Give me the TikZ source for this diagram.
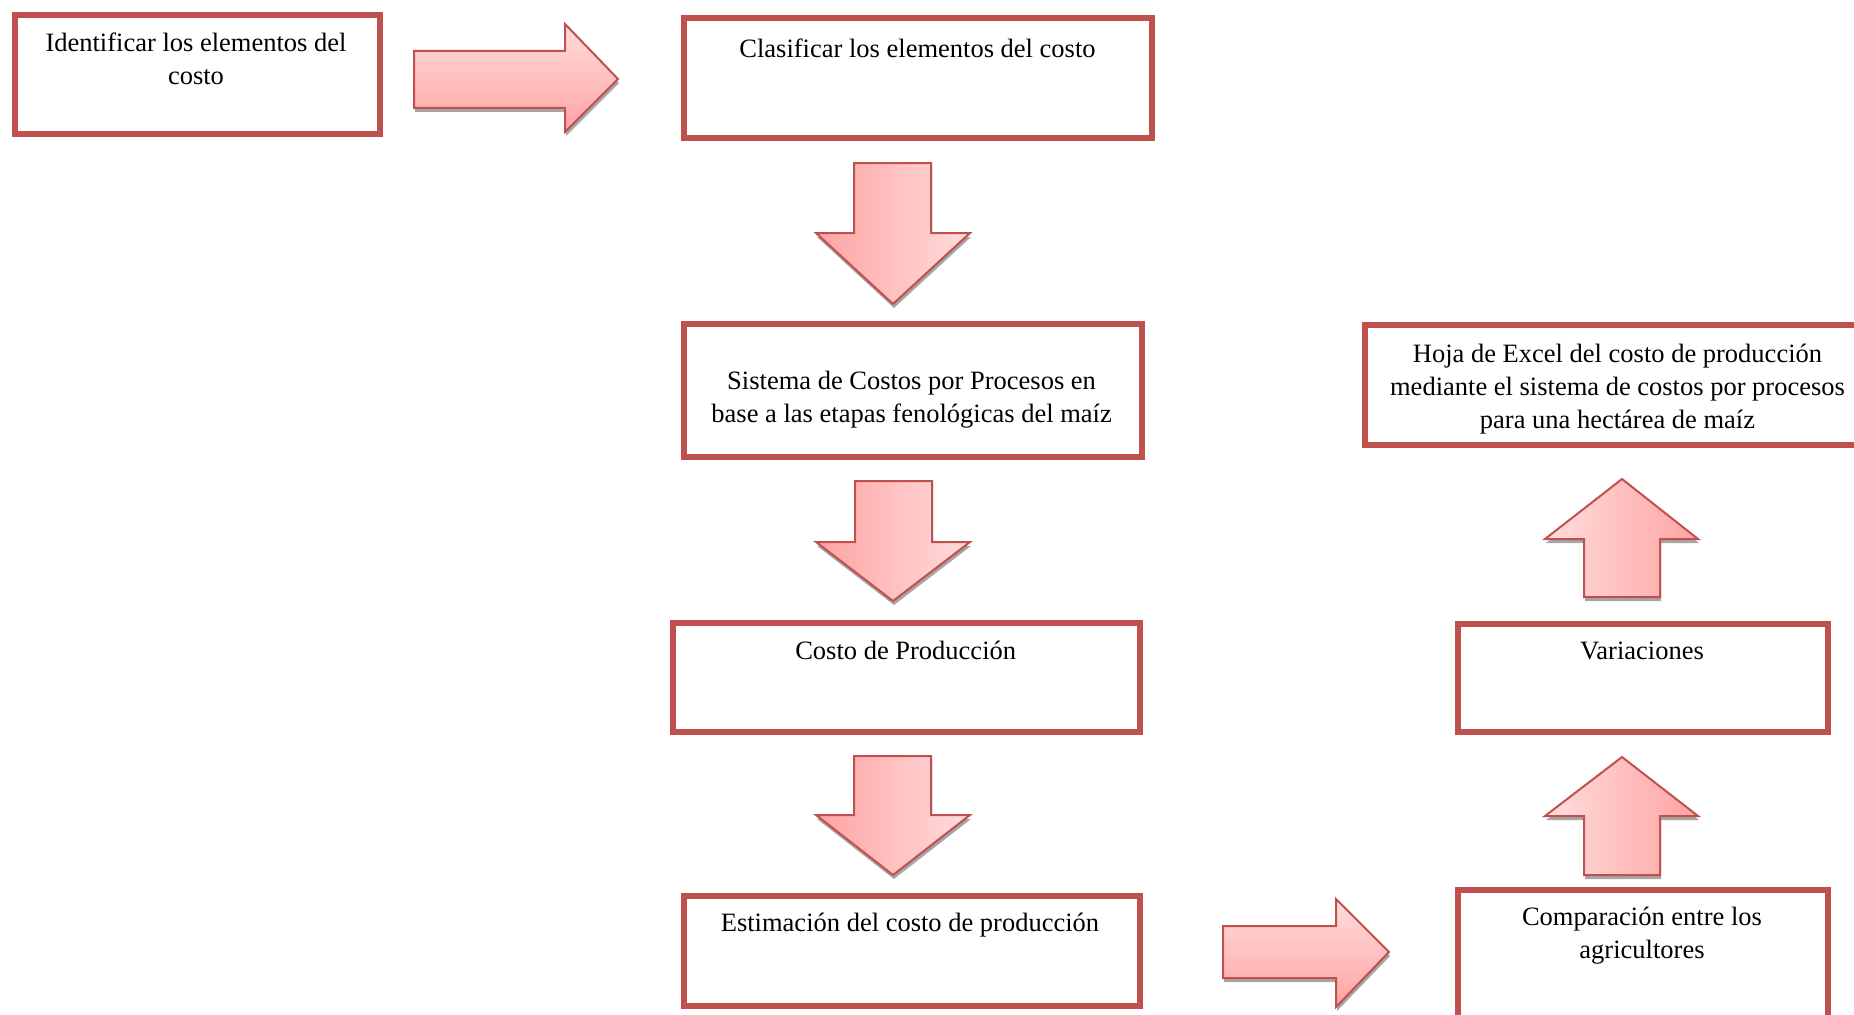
\documentclass[tikz,border=0pt]{standalone}
\usepackage{fontspec}
\setmainfont{Liberation Serif}
\usetikzlibrary{shadows}
\definecolor{boxred}{HTML}{C0504D}
\definecolor{pinkdark}{HTML}{FFA3A3}
\definecolor{pinklight}{HTML}{FFDDDD}
\newcommand\linestrut{\rule[-0.25em]{0pt}{0.95em}}
\begin{document}
\begin{tikzpicture}[x=1pt,y=-1pt,
  stagebox/.style={draw=boxred, line width=6pt, outer sep=0pt, inner sep=0pt},
  stagetext/.style={font=\fontsize{26.5}{33}\selectfont, align=center, inner sep=0pt,
    execute at begin node=\linestrut, execute at end node=\linestrut},
  blockarrow/.style={draw=boxred, line width=2pt, line join=miter,
    drop shadow={shadow xshift=1pt, shadow yshift=-4pt, fill=black, opacity=0.35}},
  downfill/.style={left color=pinkdark, right color=pinklight},
  upfill/.style={left color=pinklight, right color=pinkdark},
  rightfill/.style={top color=pinklight, bottom color=pinkdark},
]
\clip (0,0) rectangle (1854,1014);
\fill[white] (0,0) rectangle (1854,1014);

% process boxes
\node[stagebox, minimum width=365pt, minimum height=119pt] (b1) at (197.5,74.5) {};
\node[stagebox, minimum width=468pt, minimum height=120pt] (b2) at (918,78) {};
\node[stagebox, minimum width=458pt, minimum height=133pt] (b3) at (913,390.5) {};
\node[stagebox, minimum width=467pt, minimum height=109pt] (b4) at (906,677) {};
\node[stagebox, minimum width=456pt, minimum height=110pt] (b5) at (912,951) {};
\node[stagebox, minimum width=370pt, minimum height=149pt] (b6) at (1643,964.5) {};
\node[stagebox, minimum width=370pt, minimum height=108pt] (b7) at (1643,678) {};
\node[stagebox, minimum width=514pt, minimum height=120pt] (b8) at (1622,385) {};

% box texts
\node[stagetext] (t1) at (196,61.5) {Identificar los elementos del\\costo};
\node[stagetext] (t2) at (917.5,51) {Clasificar los elementos del costo};
\node[stagetext] (t3) at (911.6,400.5) {Sistema de Costos por Procesos en\\base a las etapas fenológicas del maíz};
\node[stagetext] (t4) at (905.7,654) {Costo de Producción};
\node[stagetext] (t5) at (910,926) {Estimación del costo de producción};
\node[stagetext] (t6) at (1642,936.5) {Comparación entre los\\agricultores};
\node[stagetext] (t7) at (1642,654) {Variaciones};
\node[stagetext] (t8) at (1617.5,390) {Hoja de Excel del costo de producción\\mediante el sistema de costos por procesos\\para una hectárea de maíz};

% block arrows
\path[blockarrow, rightfill] (414,51) -- (565,51) -- (565,24) -- (618,79) -- (565,132) -- (565,108) -- (414,108) -- cycle;
\path[blockarrow, downfill] (854,163) -- (931,163) -- (931,233) -- (970,233) -- (893,304) -- (816,233) -- (854,233) -- cycle;
\path[blockarrow, downfill] (855,481) -- (932,481) -- (932,542) -- (970,542) -- (893,601) -- (816,542) -- (855,542) -- cycle;
\path[blockarrow, downfill] (854,756) -- (931,756) -- (931,815) -- (970,815) -- (893,875) -- (816,815) -- (854,815) -- cycle;
\path[blockarrow, rightfill] (1223,926) -- (1336,926) -- (1336,899) -- (1389,952) -- (1336,1007) -- (1336,978) -- (1223,978) -- cycle;
\path[blockarrow, upfill] (1584,875) -- (1660,875) -- (1660,816) -- (1698,816) -- (1622,757) -- (1545,816) -- (1584,816) -- cycle;
\path[blockarrow, upfill] (1584,597) -- (1660,597) -- (1660,539) -- (1698,539) -- (1622,479) -- (1545,539) -- (1584,539) -- cycle;
\end{tikzpicture}
\end{document}
